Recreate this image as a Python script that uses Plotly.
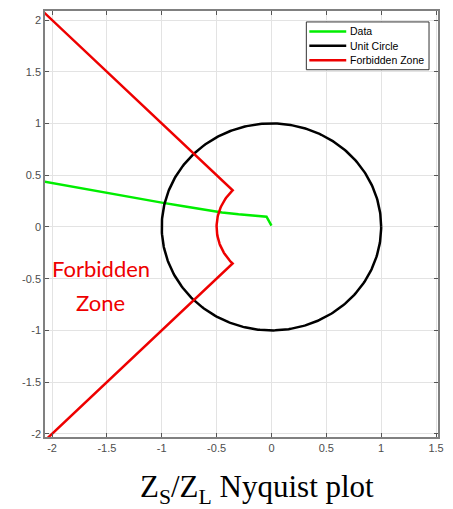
import numpy as np
import plotly.graph_objects as go

# Data
data_re = [-2.10, -1.80, -1.50, -1.20, -1.00, -0.80, -0.60, -0.45, -0.30, -0.15, -0.07, -0.045, 0.0]
data_im = [0.444, 0.385, 0.326, 0.270, 0.235, 0.200, 0.165, 0.140, 0.122, 0.107, 0.100, 0.099, 0.012]

circle_radius = 1.0
zone_radius = 0.5
zone_angle_deg = [135, 225]
zone_outer = 3.2

x_ticks = [-2, -1.5, -1, -0.5, 0, 0.5, 1, 1.5]
y_ticks = [-2, -1.5, -1, -0.5, 0, 0.5, 1, 1.5, 2]
x_tick_labels = ["-2", "-1.5", "-1", "-0.5", "0", "0.5", "1", "1.5"]
y_tick_labels = ["-2", "-1.5", "-1", "-0.5", "0", "0.5", "1", "1.5", "2"]

series_names = ["Data", "Unit Circle", "Forbidden Zone"]
series_colors = ["#00ee00", "#000000", "#ee0000"]

# Unit circle
t = np.linspace(0, 2 * np.pi, 361)
cx = circle_radius * np.cos(t)
cy = circle_radius * np.sin(t)

# Forbidden zone: radial lines at 135 and 225 deg joined by arc of radius 0.5
a0, a1 = np.deg2rad(zone_angle_deg[0]), np.deg2rad(zone_angle_deg[1])
arc = np.linspace(a0, a1, 60)
fx = [zone_outer * np.cos(a0)] + list(zone_radius * np.cos(arc)) + [zone_outer * np.cos(a1)]
fy = [zone_outer * np.sin(a0)] + list(zone_radius * np.sin(arc)) + [zone_outer * np.sin(a1)]

W, H = 453, 509
ML, MR, MT, MB = 45, 14, 9, 72
PW, PH = W - ML - MR, H - MT - MB

def px_to_paper_x(px):
    return (px - ML) / PW

def px_to_paper_y(py):
    return (H - MB - py) / PH

fig = go.Figure()
xs = [data_re, cx, fx]
ys = [data_im, cy, fy]
for name, color, x, y in zip(series_names, series_colors, xs, ys):
    fig.add_trace(go.Scatter(x=x, y=y, mode="lines", name=name,
                             line=dict(color=color, width=2.5), showlegend=False))

axis_common = dict(
    showgrid=True, gridcolor="#e3e3e3", gridwidth=1,
    zeroline=False, showline=True, mirror="allticks", linecolor="#808080", linewidth=1.5,
    ticks="inside", ticklen=4, tickcolor="#555555",
    tickfont=dict(family="Liberation Sans, Arial", size=11, color="#4d4d4d"),
)

fig.update_layout(
    width=W, height=H,
    margin=dict(l=ML, r=MR, t=MT, b=MB),
    plot_bgcolor="white", paper_bgcolor="white",
    xaxis=dict(range=[-2.064, 1.518], tickvals=x_ticks, ticktext=x_tick_labels, **axis_common),
    yaxis=dict(range=[-2.03, 2.087], tickvals=y_ticks, ticktext=y_tick_labels, **axis_common),
    showlegend=False,
)

# Legend box drawn in MATLAB style
box_l, box_r, box_t, box_b = 307, 430, 20, 68
fig.add_shape(type="rect", xref="paper", yref="paper",
              x0=px_to_paper_x(box_l), x1=px_to_paper_x(box_r),
              y0=px_to_paper_y(box_b), y1=px_to_paper_y(box_t),
              line=dict(color="#333333", width=1), fillcolor="white", layer="above")
row_y = [29.5, 44, 58.5]
for name, color, ry in zip(series_names, series_colors, row_y):
    fig.add_shape(type="line", xref="paper", yref="paper",
                  x0=px_to_paper_x(310), x1=px_to_paper_x(347),
                  y0=px_to_paper_y(ry), y1=px_to_paper_y(ry),
                  line=dict(color=color, width=2.5), layer="above")
    fig.add_annotation(text=name, x=px_to_paper_x(349), y=px_to_paper_y(ry),
                       xref="paper", yref="paper", xanchor="left", yanchor="middle",
                       showarrow=False,
                       font=dict(family="Liberation Sans, Arial", size=10.5, color="#000000"))

# "Forbidden Zone" label
fig.add_annotation(text="Forbidden", x=-1.555, y=-0.404, xref="x", yref="y",
                   showarrow=False, xanchor="center", yanchor="middle",
                   font=dict(family="Lato, Open Sans, sans-serif", size=22, color="#ee0000"))
fig.add_annotation(text="Zone", x=-1.555, y=-0.731, xref="x", yref="y",
                   showarrow=False, xanchor="center", yanchor="middle",
                   font=dict(family="Lato, Open Sans, sans-serif", size=22, color="#ee0000"))

fig.add_annotation(text="Z<sub>S</sub>/Z<sub>L</sub> Nyquist plot",
                   x=px_to_paper_x(258), y=px_to_paper_y(489), xref="paper", yref="paper",
                   xanchor="center", yanchor="middle", showarrow=False,
                   font=dict(family="Liberation Serif, Times New Roman, serif", size=31, color="#000000"))

fig.write_html("out.html")
